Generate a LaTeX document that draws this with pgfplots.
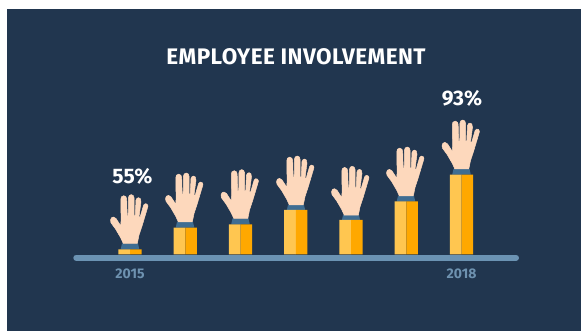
\documentclass[border=0pt]{standalone}
\usepackage{pgfplots}
\usepackage{pgfplotstable}
\usepackage{fontspec}
\pgfplotsset{compat=1.18}
\setmainfont{Fira Sans}

\definecolor{panel}{HTML}{21364F}
\definecolor{floorcol}{HTML}{6B93B3}
\definecolor{yearcol}{HTML}{6E92B0}
\definecolor{cuff}{HTML}{3F6D92}
\definecolor{skin}{HTML}{FDD8BC}
\definecolor{barlight}{HTML}{FFC650}
\definecolor{bardark}{HTML}{FFA800}

% percent involved, one value per raised hand
\pgfplotstableread{
x  val
0  55
1  66.1
2  67.8
3  75.1
4  70
5  79.4
6  93
}\involvement

% hand outline, pixels from the middle of the wrist
\pgfplotstableread{
x     y
-6.7  0
-9.3  5.7
-14.3 14.3
-19   20.7
-19.5 23.5
-18.5 25.7
-16.5 26.5
-14   25
-9.3  17.7
-8.9  23.3
-9.2  44
-8.6  46.6
-6.3  47.8
-4    46.6
-3.3  44
-2.8  27.7
-1.8  27.7
-1.5  46
-0.7  48
1.2   48.9
3.2   48
4.1   45.5
4.2   27.7
5.2   27.7
6.0   43.3
7     45.2
8.6   45.8
10.3  44.9
11    41.7
9.0   26.7
10.2  26.7
13.6  38.3
15.2  39.8
17    39.4
18    37.5
17.3  35
12.3  18.3
9     8.3
7.3   0
}\handshape

% #1 wrist x, #2 top of the bar (picture pixels)
\newcommand{\hand}[2]{
  \addplot[fill=cuff, draw=none] coordinates {(#1-9.3,#2) (#1+9.3,#2) (#1+8,#2-5.8) (#1-8,#2-5.8)} --cycle;
  \addplot[fill=skin, draw=skin, line width=0.5pt, line join=round]
    table[x expr=\thisrow{x}+#1, y expr=#2-5.8-\thisrow{y}] {\handshape} --cycle;
}

\begin{document}
\begin{tikzpicture}
\path[use as bounding box] (0,0) rectangle (581pt,331pt);
\begin{axis}[
    scale only axis,
    width=581pt,
    height=331pt,
    xmin=0, xmax=581,
    ymin=0, ymax=331,
    y dir=reverse,
    hide axis,
    clip=false,
]
    \addplot[fill=panel, draw=none] coordinates {(7,9) (581,9) (581,331) (7,331)} --cycle;
    \addplot[floorcol, line width=6pt, line cap=round] coordinates {(76.3,257.7) (516,257.7)};
    \hand{130}{249.3}
    \hand{185}{227.7}
    \hand{240.5}{224.3}
    \hand{296}{210.7}
    \hand{351}{221}
    \hand{406}{201.7}
    \hand{461.5}{174.7}
    \node[text=white, font=\fontsize{22.5}{22.5}\selectfont\bfseries\addfontfeatures{LetterSpace=2}] at (axis cs:296,57) {EMPLOYEE INVOLVEMENT};
    \node[text=white, font=\fontsize{21}{21}\selectfont\bfseries] at (axis cs:132.5,176.5) {55\%};
    \node[text=white, font=\fontsize{21}{21}\selectfont\bfseries] at (axis cs:462,98.5) {93\%};
\end{axis}
\begin{axis}[
    at={(0pt,76.5pt)},
    anchor=south west,
    scale only axis,
    width=581pt,
    height=254.5pt,
    xmin=-2.353, xmax=8.163,
    ymin=52.46, ymax=181.75,
    ybar,
    bar width=11.6pt,
    axis x line*=bottom,
    axis y line=none,
    axis line style={draw=none},
    major tick length=0pt,
    xtick={0,6},
    xticklabels={2015,2018},
    xticklabel style={text=yearcol, font=\fontsize{14}{14}\selectfont\bfseries, yshift=-11pt},
]
    \addplot[fill=barlight, draw=none, bar shift=-5.8pt] table[x=x, y=val] {\involvement};
    \addplot[fill=bardark, draw=none, bar shift=5.8pt] table[x=x, y=val] {\involvement};
\end{axis}
\end{tikzpicture}
\end{document}
